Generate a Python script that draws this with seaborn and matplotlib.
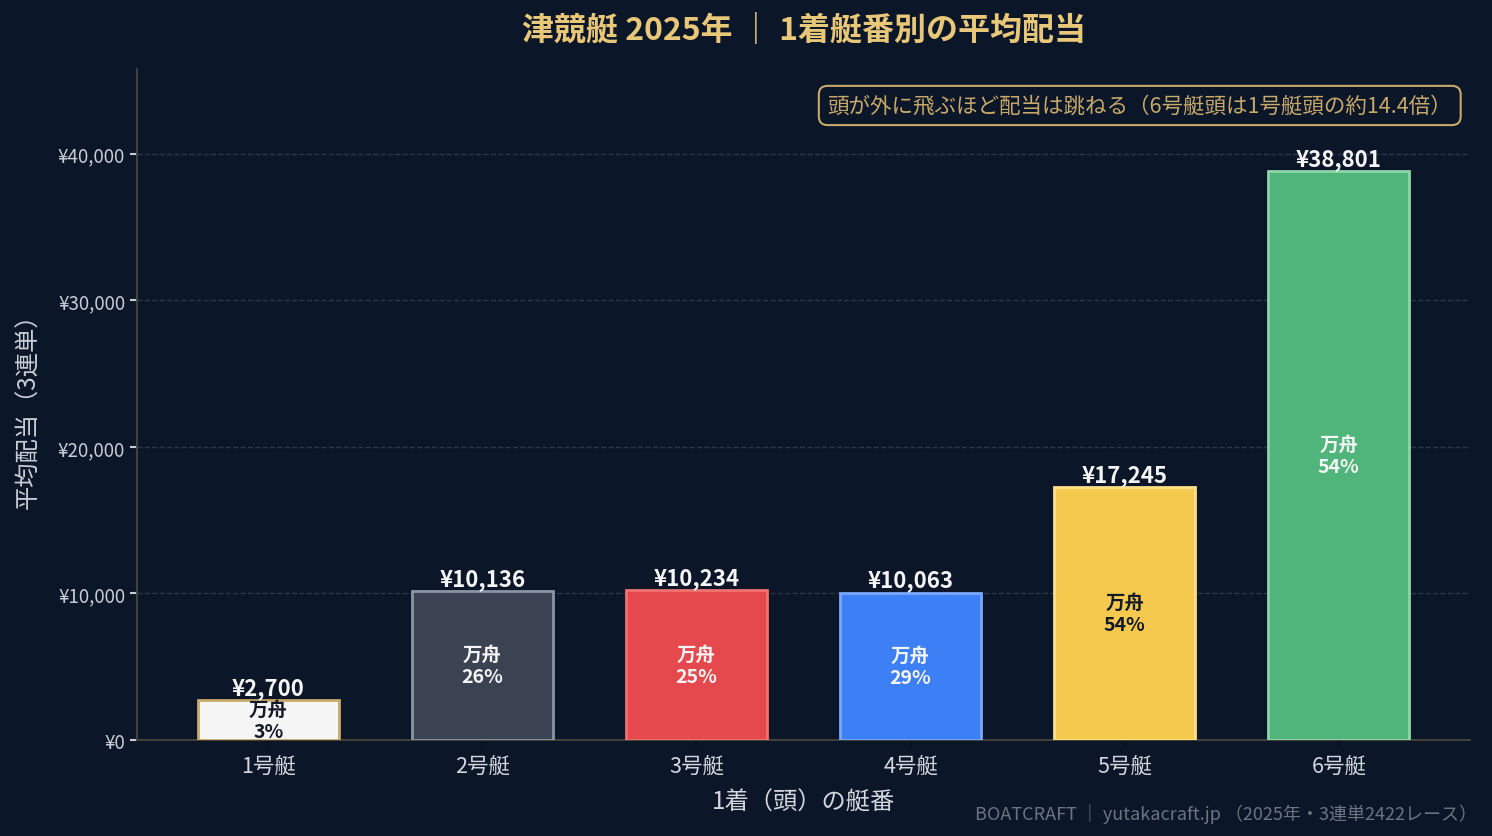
import matplotlib.pyplot as plt
import seaborn as sns
import pandas as pd

# === 1. Data ===
boats = ['1号艇', '2号艇', '3号艇', '4号艇', '5号艇', '6号艇']
avg_payout = [2700, 10136, 10234, 10063, 17245, 38801]
manshu_pct = [3, 26, 25, 29, 54, 54]

bar_colors = ['#f5f5f5', '#3b4352', '#e5484d', '#3d7ff5', '#f5c84e', '#4fb57a']
edge_colors = ['#c8a96a', '#8a96a8', '#f07272', '#7aa8ff', '#ffe08a', '#8dd6aa']
inner_text = ['#111827', '#f5f5f5', '#f5f5f5', '#f5f5f5', '#111827', '#f5f5f5']

df = pd.DataFrame({'boat': boats, 'payout': avg_payout})

BG = '#0b1628'
JP = ['Noto Sans CJK JP', 'DejaVu Sans']

# === 2. Plot ===
sns.set_style('dark')
plt.rcParams['font.family'] = JP

fig = plt.figure(figsize=(14.92, 8.37), dpi=100, facecolor=BG)
ax = fig.add_axes([0.0918, 0.1147, 0.8935, 0.8017])
ax.set_facecolor(BG)

sns.barplot(data=df, x='boat', y='payout', hue='boat', palette=bar_colors,
            legend=False, width=0.66, saturation=1, ax=ax, zorder=3)

for bar, ec in zip(ax.patches, edge_colors):
    bar.set_edgecolor(ec)
    bar.set_linewidth(2)

ax.set_xlim(-0.613, 5.613)
ax.set_ylim(0, max(avg_payout) * 1.18)
ax.set_yticks([0, 10000, 20000, 30000, 40000])
ax.set_yticklabels([f'¥{v:,}' for v in [0, 10000, 20000, 30000, 40000]])

ax.grid(axis='y', linestyle='--', color='#2a3845', linewidth=1, zorder=0)
ax.grid(axis='x', visible=False)

for side in ['top', 'right']:
    ax.spines[side].set_visible(False)
ax.spines['left'].set_color('#44483f')
ax.spines['bottom'].set_color('#4a4538')
ax.spines['left'].set_linewidth(1.3)
ax.spines['bottom'].set_linewidth(1.3)

ax.tick_params(axis='y', colors='#c8ccd4', labelsize=13.5, length=5, width=1.5, left=True)
ax.tick_params(axis='x', colors='#0a0f18', labelcolor='#d4d8de', labelsize=15.5,
               length=5, width=1.5, bottom=True, pad=6)

ax.set_xlabel('1着（頭）の艇番', fontsize=17.5, color='#d4d8de', labelpad=8)
ax.set_ylabel('平均配当（3連単）', fontsize=17.5, color='#c8ccd4', labelpad=12)

# === 3. Labels ===
for i, bar in enumerate(ax.patches):
    h = bar.get_height()
    cx = bar.get_x() + bar.get_width() / 2
    ax.text(cx, h + 80, f'¥{avg_payout[i]:,}', ha='center', va='bottom',
            fontsize=16, fontweight='bold', color='#f5f5f5', zorder=5)
    ax.text(cx, h / 2, f'万舟\n{manshu_pct[i]}%', ha='center', va='center',
            fontsize=14, fontweight='bold', color=inner_text[i], linespacing=1.2, zorder=5)

ax.set_title('津競艇 2025年 ｜ 1着艇番別の平均配当', fontsize=23, fontweight='bold',
             color='#e8c878', pad=22)

ax.text(0.9865, 0.962, '頭が外に飛ぶほど配当は跳ねる（6号艇頭は1号艇頭の約14.4倍）',
        transform=ax.transAxes, ha='right', va='top', fontsize=15.5, color='#c8a96a',
        bbox=dict(boxstyle='round,pad=0.4', facecolor=BG, edgecolor='#c8a96a', linewidth=1.5),
        zorder=6)

fig.text(0.99, 0.015, 'BOATCRAFT ｜ yutakacraft.jp （2025年・3連単2422レース）',
         ha='right', va='bottom', fontsize=13, color='#6b7480')

# === 4. Save ===
fig.savefig('out.png', dpi=100, facecolor=BG)
